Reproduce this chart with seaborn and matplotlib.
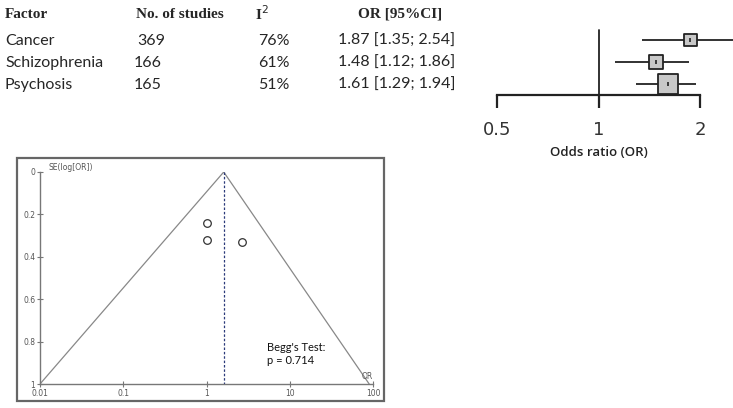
import matplotlib
matplotlib.use("Agg")
import matplotlib.pyplot as plt
import matplotlib.patches as mpatches
import seaborn as sns
import pandas as pd
import numpy as np

sns.set_style("white")

# --- data ---
factors = ["Cancer", "Schizophrenia", "Psychosis"]
n_studies = [369, 166, 165]
i2 = ["76%", "61%", "51%"]
or_est = [1.87, 1.48, 1.61]
ci_low = [1.35, 1.12, 1.29]
ci_high = [2.54, 1.86, 1.94]
weights = [130, 150, 300]

funnel_or = [1.0, 1.0, 2.7]
funnel_se = [0.24, 0.32, 0.33]
pooled_or = 1.61
funnel_edges_x = [0.01, 1.61, 90]
funnel_edges_y = [1, 0, 1]

W, H = 733, 408
fig = plt.figure(figsize=(W / 100, H / 100), dpi=100)

def px(x, y):
    return x / W, 1 - y / H

# --- table ---
serif = "Liberation Serif"
sans = "Lato"
hdr = [("Factor", 5), ("No. of studies", 136), ("I$^2$", 255), ("OR [95%CI]", 358)]
for txt, x in hdr:
    fig.text(*px(x, 14), txt, family=serif, weight="bold", fontsize=11, va="center")
rows_y = [41, 63, 85]
for k, name in enumerate(factors):
    y = rows_y[k]
    fig.text(*px(5, y), name, family=sans, fontsize=11.5, va="center")
    fig.text(*px(134 if k else 137, y), str(n_studies[k]), family=sans, fontsize=11.5, va="center")
    fig.text(*px(258, y), i2[k], family=sans, fontsize=11.5, va="center")
    fig.text(*px(338, y), f"{or_est[k]:.2f} [{ci_low[k]:.2f}; {ci_high[k]:.2f}]",
             family=sans, fontsize=11.5, va="center")

# --- forest plot ---
x0, x1, ytop, ybot = 497, 700, 30, 95
axf = fig.add_axes([x0 / W, 1 - ybot / H, (x1 - x0) / W, (ybot - ytop) / H])
axf.set_xscale("log")
forest = pd.DataFrame({"factor": factors, "OR": or_est, "lo": ci_low, "hi": ci_high,
                       "pos": [3, 2, 1], "w": weights})
axf.hlines(forest["pos"], forest["lo"], forest["hi"], color="#222", lw=1.3, clip_on=False)
sns.scatterplot(data=forest, x="OR", y="pos", size="w", sizes=(85, 210), marker="s",
                color="#c8c8c8", edgecolor="#222", linewidth=1.3, legend=False,
                ax=axf, clip_on=False, zorder=3)
axf.scatter(forest["OR"], forest["pos"], marker="|", s=12, color="#222", lw=1.2,
            zorder=4, clip_on=False)
axf.axvline(1, color="#222", lw=1.3, ymin=0, ymax=1, clip_on=False)
axf.set_xlim(0.5, 2)
axf.set_ylim(0.5, 3.45)
axf.set_xticks([0.5, 1, 2])
axf.set_xticklabels(["0.5", "1", "2"])
axf.xaxis.set_minor_locator(matplotlib.ticker.NullLocator())
axf.set_yticks([])
axf.set_ylabel("")
for s in ["top", "left", "right"]:
    axf.spines[s].set_visible(False)
axf.spines["bottom"].set_color("#222")
axf.spines["bottom"].set_linewidth(1.6)
axf.tick_params(axis="x", bottom=True, direction="out", length=9, width=1.6, color="#222",
                labelsize=13, labelcolor="#333", pad=10)
axf.set_xlabel("Odds ratio (OR)", family="Open Sans", weight="semibold", fontsize=9.5,
               color="#222", labelpad=5)
axf.patch.set_alpha(0)

# --- funnel plot ---
frame = mpatches.Rectangle(px(17, 401), (384 - 17) / W, (401 - 158) / H,
                           transform=fig.transFigure, fill=False, edgecolor="#666", lw=1.6)
fig.patches.append(frame)

ax = fig.add_axes([40 / W, 1 - 384 / H, (373 - 40) / W, (384 - 172) / H])
ax.set_xscale("log")
ax.plot(funnel_edges_x, funnel_edges_y, color="#888", lw=0.9)
ax.plot([pooled_or, pooled_or], [0, 1], color="#2b3a7a", lw=0.9, ls=(0, (2, 1.5)))
fp = pd.DataFrame({"OR": funnel_or, "SE": funnel_se})
sns.scatterplot(data=fp, x="OR", y="SE", ax=ax, marker="o", s=30, facecolor="white",
                edgecolor="#333", linewidth=0.9, zorder=3)
ax.set_xlim(0.01, 100)
ax.set_ylim(1, 0)
ax.set_xticks([0.01, 0.1, 1, 10, 100])
ax.set_xticklabels(["0.01", "0.1", "1", "10", "100"])
ax.xaxis.set_minor_locator(matplotlib.ticker.NullLocator())
ax.set_yticks([0, 0.2, 0.4, 0.6, 0.8, 1])
ax.set_yticklabels(["0", "0.2", "0.4", "0.6", "0.8", "1"])
for s in ["top", "right"]:
    ax.spines[s].set_visible(False)
for s in ["left", "bottom"]:
    ax.spines[s].set_color("#777")
    ax.spines[s].set_linewidth(1.0)
ax.tick_params(axis="both", bottom=True, left=True, direction="inout", length=5, width=0.8,
               color="#777", labelsize=5.5, labelcolor="#555", pad=1)
ax.set_xlabel("")
ax.set_ylabel("")
ax.patch.set_alpha(0)
ax.text(0.0125, 0.0, "SE(log[OR])", fontsize=5.5, color="#555", va="bottom")
ax.text(100, 0.985, "OR", fontsize=5.5, color="#555", ha="right", va="bottom")
ax.text(5.3, 0.86, "Begg's Test:\np = 0.714", family=sans, fontsize=8, color="#111",
        va="center", linespacing=1.25)

fig.savefig("out.png", dpi=100)
